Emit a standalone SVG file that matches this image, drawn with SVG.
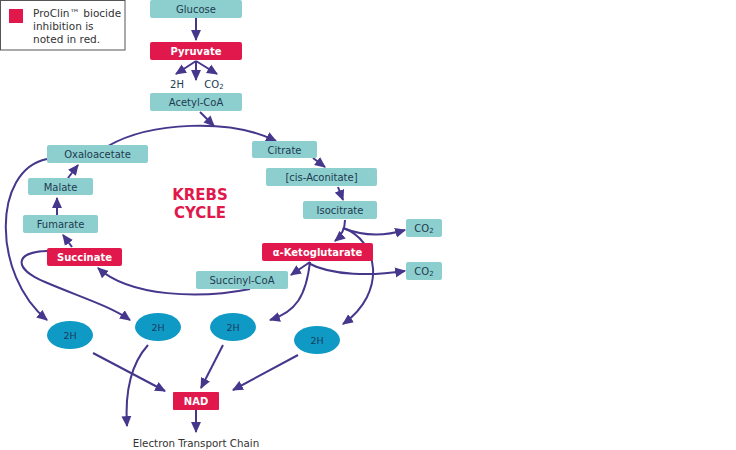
<svg xmlns="http://www.w3.org/2000/svg" width="736" height="450" viewBox="0 0 736 450">
<defs>
<marker id="ah" viewBox="0 0 10 10" refX="9" refY="5" markerWidth="11" markerHeight="11" markerUnits="userSpaceOnUse" orient="auto"><path d="M0,0.5 L10,5 L0,9.5 z" fill="#46368c"/></marker>
<style>
.box{fill:#8dcfcf;}
.red{fill:#e0184c;}
.ell{fill:#0f9ac6;}
.t{font-family:"DejaVu Sans",Verdana,sans-serif;font-size:10px;fill:#1d3b4f;text-anchor:middle;}
.tw{font-family:"DejaVu Sans",Verdana,sans-serif;font-size:10px;font-weight:bold;fill:#ffffff;text-anchor:middle;}
.te{font-family:"DejaVu Sans",Verdana,sans-serif;font-size:9.5px;fill:#1b3a5c;text-anchor:middle;}
.k{font-family:"DejaVu Sans",Verdana,sans-serif;font-size:15px;font-weight:bold;fill:#e0184c;text-anchor:middle;}
.lg{font-family:"DejaVu Sans",Verdana,sans-serif;font-size:10.5px;fill:#333333;}
.c{fill:none;stroke:#46368c;stroke-width:2;marker-end:url(#ah);}
</style>
</defs>
<rect width="736" height="450" fill="#ffffff"/>
<g id="legend">
<rect x="0.5" y="0.5" width="124.5" height="49.5" fill="#ffffff" stroke="#555555" stroke-width="1"/>
<rect x="9" y="9" width="14" height="14" class="red"/>
<text class="lg" x="33" y="17">ProClin™ biocide</text>
<text class="lg" x="33" y="30">inhibition is</text>
<text class="lg" x="33" y="43">noted in red.</text>
</g>
<g id="connectors">
<path class="c" d="M196 18 L196 40"/>
<path class="c" d="M196 61 L176 74"/>
<path class="c" d="M196 61 L196 80"/>
<path class="c" d="M196 61 L217 74"/>
<path class="c" d="M200 112 L214 126"/>
<path class="c" d="M108 146 C150 122 230 118 276 141"/>
<path class="c" d="M313 158 L325 167"/>
<path class="c" d="M338 187 L343 200"/>
<path class="c" d="M345 220 C345 230 341 236 335 241"/>
<path class="c" d="M343 228 C365 237 385 236 405 230"/>
<path class="c" d="M343 228 C378 240 388 292 343 324"/>
<path class="c" d="M310 262 L291 275"/>
<path class="c" d="M308 263 C332 276 372 276 405 271"/>
<path class="c" d="M310 262 C306 296 296 312 270 320"/>
<path class="c" d="M250 289 C200 299 130 297 98 268"/>
<path class="c" d="M72 247 L63 235"/>
<path class="c" d="M57 215 L57 198"/>
<path class="c" d="M68 178 L78 165"/>
<path class="c" d="M47 159 C-8 170 -8 275 47 320"/>
<path class="c" d="M47 251 C15 252 12 268 45 282 C80 297 110 306 130 320"/>
<path class="c" d="M93 353 L165 391"/>
<path class="c" d="M223 345 L201 388"/>
<path class="c" d="M298 355 L233 390"/>
<path class="c" d="M148 345 C130 365 125 395 127 426"/>
<path class="c" d="M196 410 L196 432"/>
</g>
<g id="glucose"><rect x="150" y="0" width="92" height="18" rx="2" class="box"/><text class="t" x="196" y="13">Glucose</text></g>
<g id="pyruvate"><rect x="150" y="42" width="92" height="18" rx="2" class="red"/><text class="tw" x="196" y="55">Pyruvate</text></g>
<g id="pyr-2h"><text class="t" x="177" y="88">2H</text></g>
<g id="pyr-co2"><text class="t" x="214" y="88">CO<tspan font-size="7" dy="1">2</tspan></text></g>
<g id="acetylcoa"><rect x="150" y="93" width="92" height="18" rx="2" class="box"/><text class="t" x="196" y="106">Acetyl-CoA</text></g>
<g id="citrate"><rect x="252" y="141" width="65" height="17" rx="2" class="box"/><text class="t" x="284.5" y="153.5">Citrate</text></g>
<g id="cisaconitate"><rect x="266" y="168" width="111" height="18" rx="2" class="box"/><text class="t" x="321.5" y="181">[cis-Aconitate]</text></g>
<g id="isocitrate"><rect x="303" y="201" width="74" height="18" rx="2" class="box"/><text class="t" x="340" y="214">Isocitrate</text></g>
<g id="co2a"><rect x="406" y="219" width="36" height="18" rx="2" class="box"/><text class="t" x="424" y="232">CO<tspan font-size="7" dy="1">2</tspan></text></g>
<g id="ketoglutarate"><rect x="262" y="243" width="111" height="18" rx="2" class="red"/><text class="tw" x="317.5" y="256">α-Ketoglutarate</text></g>
<g id="co2b"><rect x="406" y="262" width="36" height="18" rx="2" class="box"/><text class="t" x="424" y="275">CO<tspan font-size="7" dy="1">2</tspan></text></g>
<g id="succinylcoa"><rect x="196" y="271" width="92" height="18" rx="2" class="box"/><text class="t" x="242" y="284">Succinyl-CoA</text></g>
<g id="succinate"><rect x="47" y="248" width="75" height="18" rx="2" class="red"/><text class="tw" x="84.5" y="261">Succinate</text></g>
<g id="fumarate"><rect x="23" y="215" width="75" height="18" rx="2" class="box"/><text class="t" x="60.5" y="228">Fumarate</text></g>
<g id="malate"><rect x="28" y="178" width="65" height="17" rx="2" class="box"/><text class="t" x="60.5" y="190.5">Malate</text></g>
<g id="oxaloacetate"><rect x="47" y="145" width="101" height="18" rx="2" class="box"/><text class="t" x="97.5" y="158">Oxaloacetate</text></g>
<g id="krebs"><text class="k" x="200" y="200">KREBS</text><text class="k" x="200" y="218">CYCLE</text></g>
<g id="h1"><ellipse cx="70" cy="335" rx="23" ry="14" class="ell"/><text class="te" x="70" y="338.5">2H</text></g>
<g id="h2"><ellipse cx="158" cy="327" rx="23" ry="14" class="ell"/><text class="te" x="158" y="330.5">2H</text></g>
<g id="h3"><ellipse cx="233" cy="327" rx="23" ry="14" class="ell"/><text class="te" x="233" y="330.5">2H</text></g>
<g id="h4"><ellipse cx="317" cy="340" rx="23" ry="14" class="ell"/><text class="te" x="317" y="343.5">2H</text></g>
<g id="nad"><rect x="173" y="392" width="46" height="18" rx="1" class="red"/><text class="tw" x="196" y="405">NAD</text></g>
<g id="etc"><text class="t" x="196" y="447" style="font-size:10.3px;fill:#333333">Electron Transport Chain</text></g>
</svg>
